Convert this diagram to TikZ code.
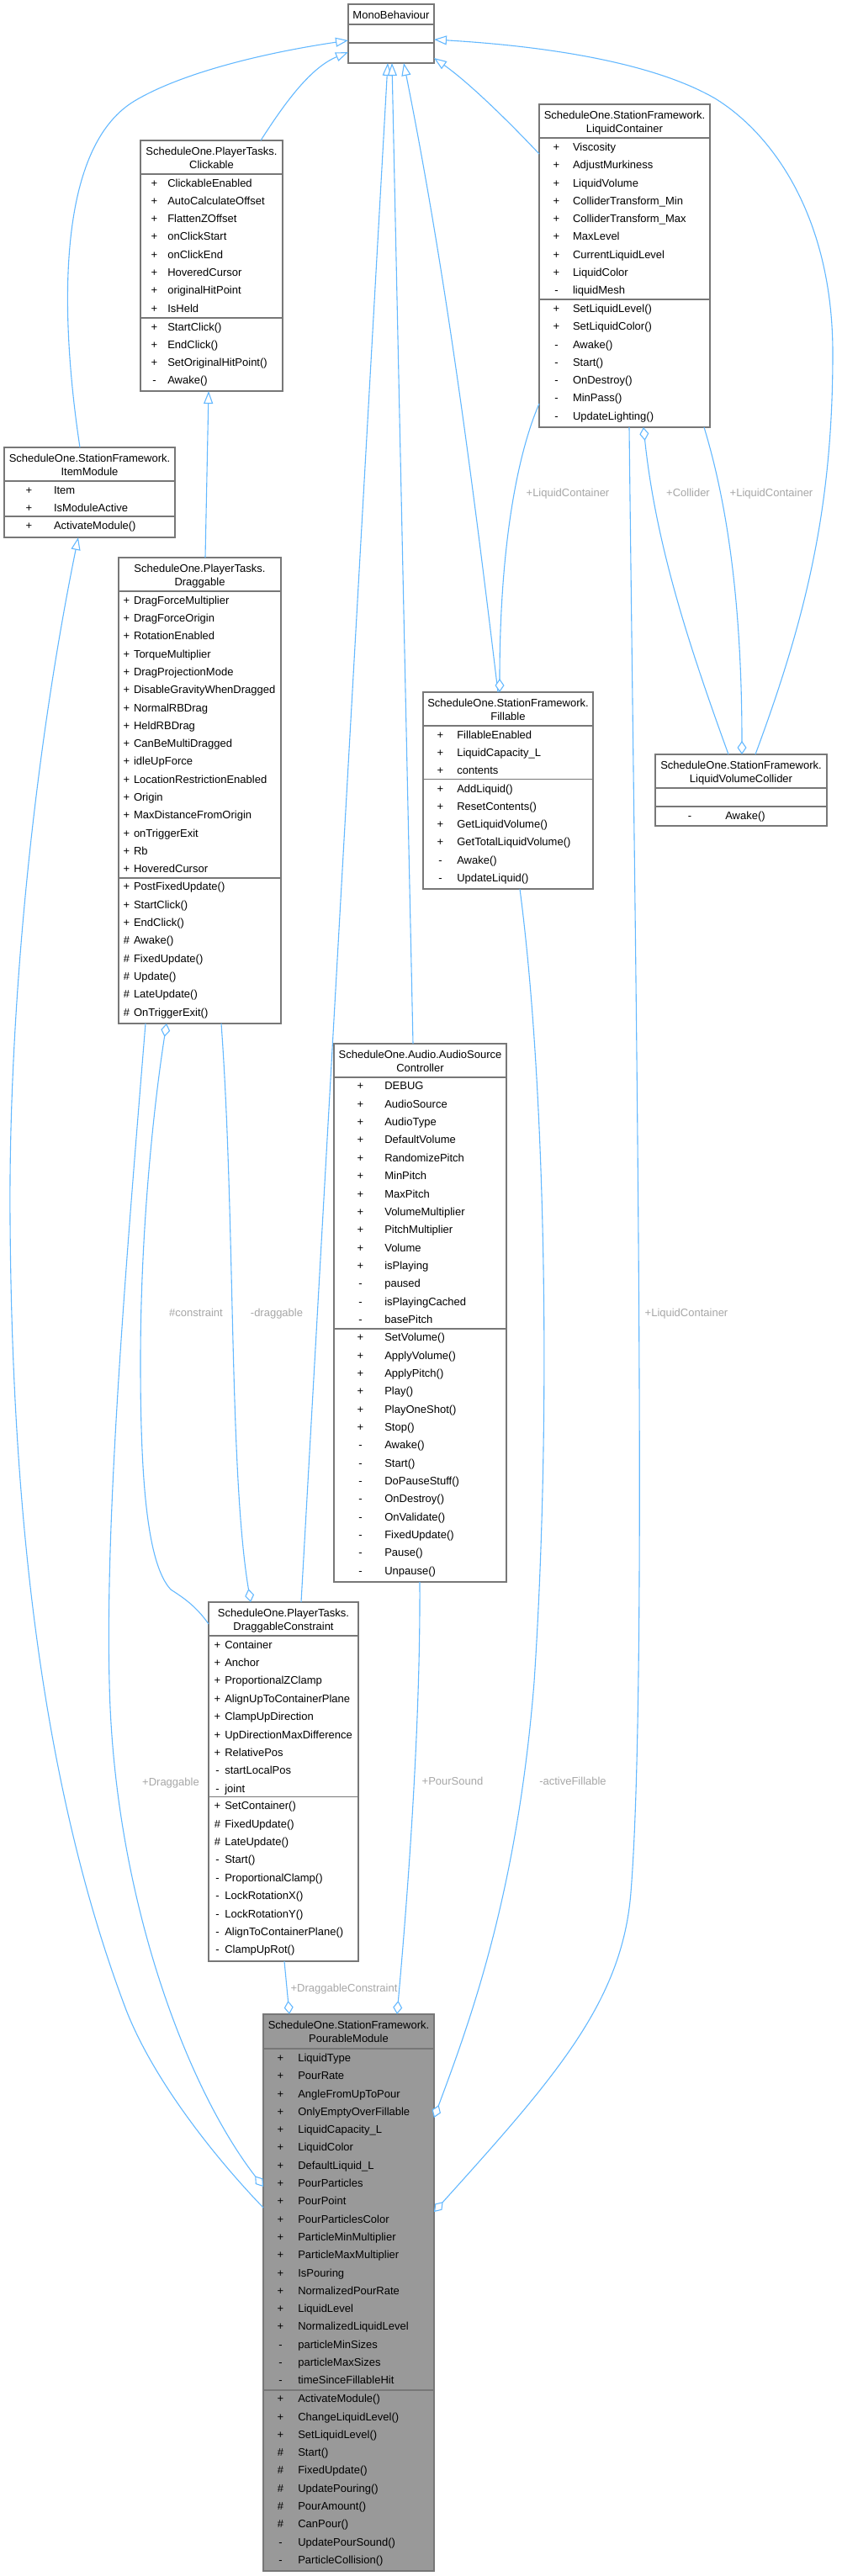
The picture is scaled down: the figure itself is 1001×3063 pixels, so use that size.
\documentclass[tikz,border=0pt]{standalone}
\usepackage{fontspec}
\setmainfont{Liberation Sans}
\usetikzlibrary{arrows.meta}
\definecolor{edgec}{HTML}{63B8FF}
\definecolor{boxc}{HTML}{777777}
\definecolor{lblc}{HTML}{A6A6A6}
\definecolor{pmfill}{HTML}{999999}
\tikzset{
  cls/.style={draw=boxc, line width=1.5pt, fill=white, anchor=north west, inner sep=0pt, outer sep=0pt},
  divl/.style={draw=boxc, line width=1.5pt},
  txt/.style={font=\fontsize{13}{15}\selectfont, inner sep=0pt, outer sep=0pt},
  visn/.style={txt, anchor=base},
  memn/.style={txt, anchor=base west},
  ttl/.style={txt, anchor=base},
  lbl/.style={txt, text=lblc, anchor=base},
  inh/.style={draw=edgec, line width=1.1pt, -{Triangle[length=15pt,width=11pt,fill=white]}},
  agg/.style={draw=edgec, line width=1.1pt, -{Diamond[length=16pt,width=11pt,fill=white]}},
}
\newcommand{\umlrows}[6]{%
  \foreach \sy/\nm [count=\i from 0] in {#6} {
    \node[visn] (#1v\i) at (#2, {#4+\i*#5+4.7}) {\sy};
    \node[memn] (#1n\i) at (#3, {#4+\i*#5+4.7}) {\nm};
  }}
\begin{document}
\begin{tikzpicture}[x=1pt,y=-1pt]
\useasboundingbox (0,0) rectangle (1001,3063);

% ---------- MonoBehaviour
\node[cls, minimum width=102pt, minimum height=70pt] (mono) at (414,5) {};
\draw[divl] (414,29) -- (516,29);
\draw[divl] (414,51) -- (516,51);
\node[ttl] (monot) at (465,22.5) {MonoBehaviour};

% ---------- Clickable
\node[cls, minimum width=169pt, minimum height=298pt] (clk) at (167,167) {};
\draw[divl] (167,207) -- (336,207);
\draw[divl] (167,378) -- (336,378);
\node[ttl] (clkt1) at (251.5,184.7) {ScheduleOne.PlayerTasks.};
\node[ttl] (clkt2) at (251.5,200.2) {Clickable};
\umlrows{clka}{183.5}{199.3}{217.3}{21.3}{+/ClickableEnabled,+/AutoCalculateOffset,+/FlattenZOffset,+/onClickStart,+/onClickEnd,+/HoveredCursor,+/originalHitPoint,+/IsHeld}
\umlrows{clkm}{183.5}{199.3}{388.3}{21.3}{+/StartClick(),+/EndClick(),+/SetOriginalHitPoint(),-/Awake()}

% ---------- LiquidContainer
\node[cls, minimum width=203pt, minimum height=384pt] (lc) at (641,124) {};
\draw[divl] (641,164) -- (844,164);
\draw[divl] (641,356) -- (844,356);
\node[ttl] (lct1) at (742.5,141.7) {ScheduleOne.StationFramework.};
\node[ttl] (lct2) at (742.5,157.2) {LiquidContainer};
\umlrows{lca}{661.5}{681}{174.7}{21.3}{+/Viscosity,+/AdjustMurkiness,+/LiquidVolume,+/ColliderTransform\_Min,+/ColliderTransform\_Max,+/MaxLevel,+/CurrentLiquidLevel,+/LiquidColor,-/liquidMesh}
\umlrows{lcm}{661.5}{681}{366.7}{21.3}{+/SetLiquidLevel(),+/SetLiquidColor(),-/Awake(),-/Start(),-/OnDestroy(),-/MinPass(),-/UpdateLighting()}

% ---------- ItemModule
\node[cls, minimum width=203pt, minimum height=107pt] (im) at (5,532) {};
\draw[divl] (5,572) -- (208,572);
\draw[divl] (5,614) -- (208,614);
\node[ttl] (imt1) at (106.5,549.7) {ScheduleOne.StationFramework.};
\node[ttl] (imt2) at (106.5,565.2) {ItemModule};
\umlrows{ima}{34.5}{64}{583}{21}{+/Item,+/IsModuleActive}
\umlrows{imm}{34.5}{64}{625}{21}{+/ActivateModule()}

% ---------- Draggable
\node[cls, minimum width=193pt, minimum height=554pt] (drg) at (141,663) {};
\draw[divl] (141,703) -- (334,703);
\draw[divl] (141,1044) -- (334,1044);
\node[ttl] (drgt1) at (237.5,680.7) {ScheduleOne.PlayerTasks.};
\node[ttl] (drgt2) at (237.5,696.2) {Draggable};
\umlrows{drga}{150.5}{159}{713.5}{21.3}{+/DragForceMultiplier,+/DragForceOrigin,+/RotationEnabled,+/TorqueMultiplier,+/DragProjectionMode,+/DisableGravityWhenDragged,+/NormalRBDrag,+/HeldRBDrag,+/CanBeMultiDragged,+/idleUpForce,+/LocationRestrictionEnabled,+/Origin,+/MaxDistanceFromOrigin,+/onTriggerExit,+/Rb,+/HoveredCursor}
\umlrows{drgm}{150.5}{159}{1054.2}{21.3}{+/PostFixedUpdate(),+/StartClick(),+/EndClick(),\#/Awake(),\#/FixedUpdate(),\#/Update(),\#/LateUpdate(),\#/OnTriggerExit()}

% ---------- Fillable
\node[cls, minimum width=202pt, minimum height=234pt] (fil) at (503,823) {};
\draw[divl] (503,863) -- (705,863);
\draw[divl] (503,926.5) -- (705,926.5);
\node[ttl] (filt1) at (604,840.7) {ScheduleOne.StationFramework.};
\node[ttl] (filt2) at (604,856.2) {Fillable};
\umlrows{fila}{523.5}{543.3}{873.3}{21.3}{+/FillableEnabled,+/LiquidCapacity\_L,+/contents}
\umlrows{film}{523.5}{543.3}{937.3}{21.3}{+/AddLiquid(),+/ResetContents(),+/GetLiquidVolume(),+/GetTotalLiquidVolume(),-/Awake(),-/UpdateLiquid()}

% ---------- LiquidVolumeCollider
\node[cls, minimum width=204pt, minimum height=85pt] (lvc) at (779,897) {};
\draw[divl] (779,937) -- (983,937);
\draw[divl] (779,959) -- (983,959);
\node[ttl] (lvct1) at (881,914.7) {ScheduleOne.StationFramework.};
\node[ttl] (lvct2) at (881,930.2) {LiquidVolumeCollider};
\umlrows{lvcm}{820}{862.3}{969.5}{21.3}{-/Awake()}

% ---------- AudioSourceController
\node[cls, minimum width=205pt, minimum height=640pt] (asc) at (397,1241) {};
\draw[divl] (397,1281) -- (602,1281);
\draw[divl] (397,1580) -- (602,1580);
\node[ttl] (asct1) at (499.5,1258.7) {ScheduleOne.Audio.AudioSource};
\node[ttl] (asct2) at (499.5,1274.2) {Controller};
\umlrows{asca}{428.5}{457.3}{1291.2}{21.35}{+/DEBUG,+/AudioSource,+/AudioType,+/DefaultVolume,+/RandomizePitch,+/MinPitch,+/MaxPitch,+/VolumeMultiplier,+/PitchMultiplier,+/Volume,+/isPlaying,-/paused,-/isPlayingCached,-/basePitch}
\umlrows{ascm}{428.5}{457.3}{1590}{21.35}{+/SetVolume(),+/ApplyVolume(),+/ApplyPitch(),+/Play(),+/PlayOneShot(),+/Stop(),-/Awake(),-/Start(),-/DoPauseStuff(),-/OnDestroy(),-/OnValidate(),-/FixedUpdate(),-/Pause(),-/Unpause()}

% ---------- DraggableConstraint
\node[cls, minimum width=178pt, minimum height=427pt] (dc) at (248,1905) {};
\draw[divl] (248,1945) -- (426,1945);
\draw[divl] (248,2136.5) -- (426,2136.5);
\node[ttl] (dct1) at (337,1922.7) {ScheduleOne.PlayerTasks.};
\node[ttl] (dct2) at (337,1938.2) {DraggableConstraint};
\umlrows{dca}{258.5}{267.3}{1955.4}{21.4}{+/Container,+/Anchor,+/ProportionalZClamp,+/AlignUpToContainerPlane,+/ClampUpDirection,+/UpDirectionMaxDifference,+/RelativePos,-/startLocalPos,-/joint}
\umlrows{dcm}{258.5}{267.3}{2147}{21.4}{+/SetContainer(),\#/FixedUpdate(),\#/LateUpdate(),-/Start(),-/ProportionalClamp(),-/LockRotationX(),-/LockRotationY(),-/AlignToContainerPlane(),-/ClampUpRot()}

% ---------- PourableModule
\node[cls, fill=pmfill, minimum width=203pt, minimum height=662pt] (pm) at (313,2395) {};
\draw[divl] (313,2436) -- (516,2436);
\draw[divl] (313,2842) -- (516,2842);
\node[ttl] (pmt1) at (414.5,2412.7) {ScheduleOne.StationFramework.};
\node[ttl] (pmt2) at (414.5,2428.2) {PourableModule};
\umlrows{pma}{333.5}{354.3}{2446.7}{21.3}{+/LiquidType,+/PourRate,+/AngleFromUpToPour,+/OnlyEmptyOverFillable,+/LiquidCapacity\_L,+/LiquidColor,+/DefaultLiquid\_L,+/PourParticles,+/PourPoint,+/PourParticlesColor,+/ParticleMinMultiplier,+/ParticleMaxMultiplier,+/IsPouring,+/NormalizedPourRate,+/LiquidLevel,+/NormalizedLiquidLevel,-/particleMinSizes,-/particleMaxSizes,-/timeSinceFillableHit}
\umlrows{pmm}{333.5}{354.3}{2852}{21.3}{+/ActivateModule(),+/ChangeLiquidLevel(),+/SetLiquidLevel(),\#/Start(),\#/FixedUpdate(),\#/UpdatePouring(),\#/PourAmount(),\#/CanPour(),-/UpdatePourSound(),-/ParticleCollision()}

% ========== inheritance
\draw[inh] ([xshift=90pt]im.north west) .. controls (75,400) and (60,180) .. (160,120) .. controls (210,90) and (300,65) .. ([yshift=-43pt]mono.north west);
\draw[inh] ([xshift=143pt]clk.north west) .. controls (340,120) and (370,80) .. ([yshift=-57pt]mono.north west);
\draw[inh] ([xshift=103pt]drg.north west) -- ([xshift=81pt]clk.south west);
\draw[inh] ([xshift=110pt]dc.north west) -- ([xshift=47pt]mono.south west);
\draw[inh] ([xshift=94pt]asc.north west) -- ([xshift=52pt]mono.south west);
\draw[inh] ([xshift=89pt]fil.north west) .. controls (562,573) and (530,325) .. ([xshift=66pt]mono.south west);
\draw[inh] ([yshift=-59pt]lc.north west) .. controls (610,150) and (560,100) .. ([yshift=-64pt]mono.north east);
\draw[inh] ([xshift=119pt]lvc.north west) .. controls (960,730) and (990,600) .. (990,420) .. controls (990,260) and (920,160) .. (850,117) .. controls (760,65) and (600,52) .. ([yshift=-42pt]mono.north east);
\draw[inh] ([yshift=-230pt]pm.north west) .. controls (260,2570) and (184,2477) .. (150,2390) .. controls (40,2100) and (14,1750) .. (12,1450) .. controls (10,1200) and (40,900) .. ([xshift=88pt]im.south west);

% ========== aggregation
\draw[agg] ([xshift=32pt]drg.south west) .. controls (150,1500) and (125,1800) .. (130,2000) .. controls (135,2250) and (220,2480) .. ([yshift=-205pt]pm.north west);
\draw[agg] ([yshift=-26pt]dc.north west) .. controls (232,1908) and (215,1898) .. (203,1890) .. controls (175,1860) and (167,1760) .. (167,1620) .. controls (167,1450) and (185,1300) .. ([xshift=57pt]drg.south west);
\draw[agg] ([xshift=122pt]drg.south west) .. controls (280,1450) and (272,1750) .. ([xshift=50pt]dc.north west);
\draw[agg] ([xshift=90pt]dc.south west) -- ([xshift=31pt]pm.north west);
\draw[agg] ([xshift=102pt]asc.south west) .. controls (500,2050) and (485,2250) .. ([xshift=159pt]pm.north west);
\draw[agg] ([xshift=115pt]fil.south west) .. controls (650,1300) and (655,1700) .. (635,2000) .. controls (615,2250) and (560,2400) .. ([yshift=-123pt]pm.north east);
\draw[agg] ([xshift=107pt]lc.south west) .. controls (756,1200) and (770,2000) .. (750,2250) .. controls (740,2380) and (660,2470) .. ([yshift=-235pt]pm.north east);
\draw[agg] ([yshift=-356pt]lc.north west) .. controls (615,540) and (594,650) .. ([xshift=91pt]fil.north west);
\draw[agg] ([xshift=87pt]lvc.north west) .. controls (820,770) and (780,650) .. ([xshift=124pt]lc.south west);
\draw[agg] ([xshift=196pt]lc.south west) .. controls (865,600) and (882,720) .. ([xshift=103pt]lvc.north west);

% ========== labels
\node[lbl] (l1) at (675,590.7) {+LiquidContainer};
\node[lbl] (l2) at (818,590.7) {+Collider};
\node[lbl] (l3) at (917,590.7) {+LiquidContainer};
\node[lbl] (l4) at (816,1565.7) {+LiquidContainer};
\node[lbl] (l5) at (233,1565.7) {\#constraint};
\node[lbl] (l6) at (329,1565.7) {-draggable};
\node[lbl] (l7) at (203,2123.7) {+Draggable};
\node[lbl] (l8) at (538,2122.7) {+PourSound};
\node[lbl] (l9) at (681,2122.7) {-activeFillable};
\node[lbl] (l10) at (409,2368.7) {+DraggableConstraint};
\end{tikzpicture}
\end{document}
